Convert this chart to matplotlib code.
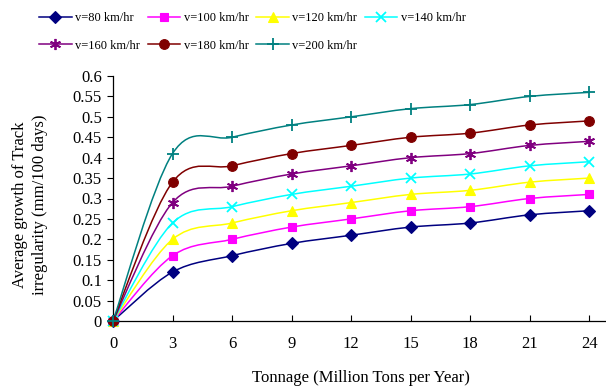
import numpy as np
import matplotlib
matplotlib.use("Agg")
import matplotlib.pyplot as plt
from matplotlib.path import Path
from matplotlib.patches import PathPatch
from matplotlib.lines import Line2D

plt.rcParams["font.family"] = ["Liberation Serif", "DejaVu Serif"]

# ---------- data ----------
tonnage = [0, 3, 6, 9, 12, 15, 18, 21, 24]
labels = ["v=80 km/hr", "v=100 km/hr", "v=120 km/hr", "v=140 km/hr",
          "v=160 km/hr", "v=180 km/hr", "v=200 km/hr"]
v80 = [0, 0.12, 0.16, 0.19, 0.21, 0.23, 0.24, 0.26, 0.27]
v100 = [0, 0.16, 0.20, 0.23, 0.25, 0.27, 0.28, 0.30, 0.31]
v120 = [0, 0.20, 0.24, 0.27, 0.29, 0.31, 0.32, 0.34, 0.35]
v140 = [0, 0.24, 0.28, 0.31, 0.33, 0.35, 0.36, 0.38, 0.39]
v160 = [0, 0.29, 0.33, 0.36, 0.38, 0.40, 0.41, 0.43, 0.44]
v180 = [0, 0.34, 0.38, 0.41, 0.43, 0.45, 0.46, 0.48, 0.49]
v200 = [0, 0.41, 0.45, 0.48, 0.50, 0.52, 0.53, 0.55, 0.56]
series = [v80, v100, v120, v140, v160, v180, v200]

colors = ["#000080", "#ff00ff", "#ffff00", "#00ffff", "#800080", "#800000", "#008080"]
markers = ["D", "s", "^", "x", (6, 2, 0), "o", "+"]
msizes = [6, 6, 7, 7, 8, 7, 9]


def smooth_path(x, y):
    """Excel-style smoothed line as cubic Bezier segments (Catmull-Rom, 1/6)."""
    pts = np.column_stack([x, y]).astype(float)
    n = len(pts)
    verts = [pts[0]]
    codes = [Path.MOVETO]
    for i in range(n - 1):
        p_prev = pts[max(i - 1, 0)]
        p0, p1 = pts[i], pts[i + 1]
        p_next = pts[min(i + 2, n - 1)]
        c1 = p0 + (p1 - p_prev) / 6.0
        c2 = p1 - (p_next - p0) / 6.0
        verts += [c1, c2, p1]
        codes += [Path.CURVE4] * 3
    return Path(verts, codes)


fig = plt.figure(figsize=(6.06, 3.91), dpi=100)
ax = fig.add_axes([113 / 606, 1 - 321 / 391, (605 - 113) / 606, (321 - 76) / 391])

handles = []
for y, lab, c, m, ms in zip(series, labels, colors, markers, msizes):
    ax.add_patch(PathPatch(smooth_path(tonnage, y), fill=False, edgecolor=c, lw=1.1))
    mew = 1.3 if m in ("x", "+", (6, 2, 0)) else 0.8
    ax.plot(tonnage, y, ls="none", marker=m, ms=ms, color=c, mec=c, mew=mew, zorder=3,
            clip_on=False)
    handles.append(Line2D([], [], color=c, lw=1.1, marker=m, ms=ms, mec=c, mew=mew))

ax.set_xlim(0, 24.8)
ax.set_ylim(0, 0.6)
ax.set_xticks(tonnage)
ax.set_yticks(np.arange(0, 0.601, 0.05))
ax.set_yticklabels(["0", "0.05", "0.1", "0.15", "0.2", "0.25", "0.3", "0.35",
                    "0.4", "0.45", "0.5", "0.55", "0.6"])
for s in ("top", "right"):
    ax.spines[s].set_visible(False)
for s in ("left", "bottom"):
    ax.spines[s].set_linewidth(0.9)
ax.tick_params(axis="x", direction="in", length=4, labelsize=12, pad=11)
ax.tick_params(axis="y", direction="out", length=4, labelsize=12, pad=4)

fig.text(30 / 606, 1 - 205 / 391, "Average growth of Track\nirregularity (mm/100 days)",
         rotation=90, ha="center", va="center", fontsize=12, linespacing=1.3)
fig.text(361 / 606, 1 - 378 / 391, "Tonnage (Million Tons per Year)",
         ha="center", va="center", fontsize=12)

order = [0, 4, 1, 5, 2, 6, 3]
fig.legend([handles[i] for i in order], [labels[i] for i in order],
           loc="upper left", bbox_to_anchor=(34 / 606, 1 - 7 / 391), ncol=4,
           frameon=False, fontsize=9, handlelength=2.6, handletextpad=0.3,
           columnspacing=0.6, labelspacing=1.25, borderaxespad=0)

fig.savefig("out.png", dpi=100)
